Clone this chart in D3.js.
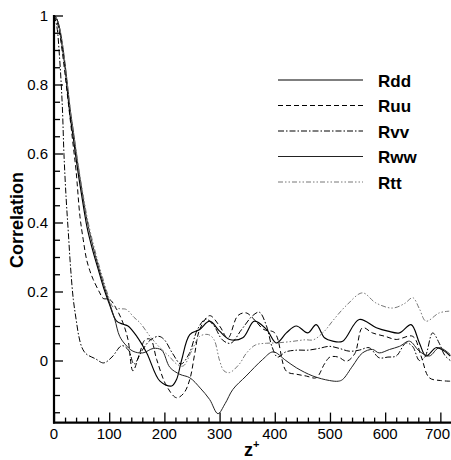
<!DOCTYPE html>
<html>
<head>
<meta charset="utf-8">
<script src="https://cdn.jsdelivr.net/npm/d3@7"></script>
<style>
  body { margin: 0; background: #fff; }
  svg { display: block; font-family: "Liberation Sans", Arial, sans-serif; }
</style>
</head>
<body>
<svg id="chart" width="451" height="460"></svg>
<script>
// z+ positions and correlation values
const zRdd = [0,5,10,15,20,25,30,35,40,45,50,55,60,70,80,90,100,113,125,134,150,168,192,213,222,231,246,264,282,300,318,342,363,385,403,421,439,460,475,490,505,523,553,584,605,626,647,662,674,692,705,718];
const Rdd  = [1,0.99,0.96,0.91,0.85,0.77,0.70,0.645,0.585,0.53,0.48,0.43,0.385,0.32,0.265,0.21,0.165,0.115,0.105,0.1,0.07,0.022,-0.06,-0.074,-0.055,0.0,0.075,0.09,0.114,0.085,0.061,0.066,0.114,0.09,0.051,0.08,0.1,0.08,0.104,0.066,0.056,0.056,0.119,0.095,0.085,0.08,0.104,0.051,0.013,0.037,0.03,0.013];

const zRuu = [0,5,10,15,20,25,30,35,40,47,53,59,65,71,83,89,101,113,125,134,143,155,165,175,186,204,222,235,246,255,264,282,300,315,333,348,362,380,400,421,440,457,475,490,500,515,530,545,559,577,600,620,650,665,680,700,718];
const Ruu  = [1,0.985,0.95,0.895,0.83,0.76,0.69,0.62,0.55,0.418,0.35,0.293,0.26,0.235,0.196,0.18,0.177,0.15,0.109,0.061,-0.03,0.02,0.06,0.061,0.003,-0.074,-0.108,-0.095,-0.055,0.02,0.09,0.13,0.1,0.065,0.13,0.138,0.12,0.09,0.08,-0.031,-0.04,-0.045,-0.05,-0.01,0.01,0.01,-0.002,0.02,0.095,0.08,0.07,0.061,0.07,0.013,-0.05,-0.058,-0.06];

const zRvv = [0,5,10,15,18,22,26,30,35,40,45,50,55,60,75,90,105,123,135,145,160,175,190,200,215,230,245,260,275,290,305,320,340,360,372,385,395,405,420,440,460,480,499,517,535,553,571,589,605,620,638,650,662,672,686,698,708,718];
const Rvv  = [1,0.97,0.88,0.74,0.6,0.47,0.37,0.27,0.177,0.12,0.07,0.04,0.025,0.017,0.005,-0.007,0.01,0.043,0.03,-0.01,0.03,0.06,0.07,0.06,0.02,-0.01,0.02,0.09,0.12,0.1,0.06,0.05,0.09,0.13,0.14,0.1,0.04,0.01,0.025,0.03,0.03,0.035,0.041,0.035,0.027,0.03,0.037,0.008,0.01,0.013,0.051,0.04,0.0,0.01,0.08,0.05,0.015,0.0];

const zRww = [0,5,10,15,20,25,30,35,40,45,50,55,60,70,80,90,100,110,119,130,143,161,180,195,210,228,246,265,282,297,310,324,348,378,397,420,439,469,499,515,523,541,559,577,589,608,626,644,662,680,698,718];
const Rww  = [1,0.99,0.965,0.92,0.86,0.79,0.72,0.665,0.605,0.55,0.5,0.45,0.405,0.335,0.275,0.22,0.17,0.12,0.07,0.045,0.027,0.022,0.035,0.03,-0.02,-0.04,-0.05,-0.08,-0.113,-0.154,-0.125,-0.084,-0.045,0.003,0.025,0.0,-0.021,-0.045,-0.058,-0.06,-0.055,-0.016,0.022,0.032,0.022,0.032,0.041,0.056,0.027,0.013,0.037,0.017];

const zRtt = [0,5,10,15,20,25,30,35,40,45,50,55,60,70,80,90,100,107,120,131,145,156,174,192,210,222,234,250,264,280,290,300,308,318,336,348,365,385,403,430,455,470,490,505,530,559,583,613,635,650,662,674,698,716];
const Rtt  = [1,0.99,0.965,0.92,0.86,0.79,0.72,0.665,0.61,0.555,0.505,0.46,0.415,0.345,0.285,0.23,0.18,0.155,0.15,0.148,0.125,0.109,0.07,0.037,0.01,-0.01,-0.016,0.03,0.07,0.075,0.06,0.0,-0.03,-0.035,-0.01,0.02,0.045,0.05,0.051,0.055,0.06,0.06,0.085,0.115,0.16,0.196,0.167,0.152,0.165,0.182,0.15,0.114,0.138,0.143];

const seriesNames = ['Rdd', 'Ruu', 'Rvv', 'Rww', 'Rtt'];
const xTicks = [0, 100, 200, 300, 400, 500, 600, 700];
const yTicks = [0, 0.2, 0.4, 0.6, 0.8, 1];

const series = [
    { name: 'Rdd', z: zRdd, v: Rdd, color: '#000', width: 1.15, dash: null },
    { name: 'Ruu', z: zRuu, v: Ruu, color: '#000', width: 1, dash: '5,3' },
    { name: 'Rvv', z: zRvv, v: Rvv, color: '#000', width: 1, dash: '6,2,1.5,2' },
    { name: 'Rww', z: zRww, v: Rww, color: '#222', width: 1, dash: null },
    { name: 'Rtt', z: zRtt, v: Rtt, color: '#777', width: 1, dash: '5,2,1.5,2,1.5,2' }
];

const svg = d3.select('#chart');
const x = d3.scaleLinear().domain([0, 720]).range([54, 451.4]);
const y = d3.scaleLinear().domain([-0.18, 1]).range([422.6, 15.5]);

svg.append('defs').append('clipPath').attr('id', 'plot')
    .append('rect').attr('x', 54).attr('y', 0).attr('width', 400).attr('height', 423);

const line = d3.line()
    .x(d => x(d[0]))
    .y(d => y(d[1]))
    .curve(d3.curveCatmullRom.alpha(0.5));

// curves
const g = svg.append('g').attr('clip-path', 'url(#plot)');
series.forEach(s => {
    g.append('path')
        .datum(s.z.map((z, i) => [z, s.v[i]]))
        .attr('d', line)
        .attr('fill', 'none')
        .attr('stroke', s.color)
        .attr('stroke-width', s.width)
        .attr('stroke-dasharray', s.dash);
});

// axes: ticks point inward, like the original
const xAxis = svg.append('g').attr('transform', 'translate(0,422.6)');
xAxis.call(d3.axisBottom(x).tickValues(d3.range(0, 720, 20)).tickSize(-5).tickFormat(''));
xAxis.call(g2 => g2.selectAll('.tick line').filter(d => d % 100 === 0).attr('y2', -10));
xAxis.select('.domain').remove();

const yAxis = svg.append('g').attr('transform', 'translate(54,0)');
yAxis.call(d3.axisLeft(y).tickValues(d3.range(-0.15, 1.001, 0.05).map(v => Math.round(v * 100) / 100)).tickSize(-6).tickFormat(''));
yAxis.call(g2 => g2.selectAll('.tick line').filter(d => Math.abs(d * 5 - Math.round(d * 5)) < 1e-6).attr('x2', 9));
yAxis.select('.domain').remove();
svg.selectAll('.tick line').attr('stroke', '#000').attr('stroke-width', 1.3);

svg.append('line').attr('x1', 54).attr('x2', 54).attr('y1', 15).attr('y2', 423.6)
    .attr('stroke', '#000').attr('stroke-width', 2.2);
svg.append('line').attr('x1', 53).attr('x2', 451).attr('y1', 422.6).attr('y2', 422.6)
    .attr('stroke', '#000').attr('stroke-width', 2.2);

// tick labels
svg.append('g').selectAll('text').data(xTicks).join('text')
    .attr('x', d => Math.min(x(d), 437.5)).attr('y', 438.5)
    .attr('text-anchor', 'middle').attr('font-size', 15)
    .text(d => d);

svg.append('g').selectAll('text').data(yTicks).join('text')
    .attr('x', 48).attr('y', d => y(d) + 5.5)
    .attr('text-anchor', 'end').attr('font-size', 15)
    .text(d => d);

// axis titles
const zt = svg.append('text').attr('x', 244).attr('y', 456)
    .attr('font-size', 18).attr('font-weight', 'bold');
zt.append('tspan').text('z');
zt.append('tspan').attr('dy', -8).attr('font-size', 11).text('+');

svg.append('text')
    .attr('transform', 'translate(23,220) rotate(-90)')
    .attr('text-anchor', 'middle').attr('font-size', 18).attr('font-weight', 'bold')
    .text('Correlation');

// legend
const legend = svg.append('g');
series.forEach((s, i) => {
    const ly = 80 + i * 25.5;
    legend.append('line')
        .attr('x1', 278).attr('x2', 363).attr('y1', ly).attr('y2', ly)
        .attr('stroke', s.color).attr('stroke-width', s.width)
        .attr('stroke-dasharray', s.dash);
    legend.append('text')
        .attr('x', 378).attr('y', ly + 6.5)
        .attr('font-size', 17).attr('font-weight', 'bold')
        .text(seriesNames[i]);
});
</script>
</body>
</html>
